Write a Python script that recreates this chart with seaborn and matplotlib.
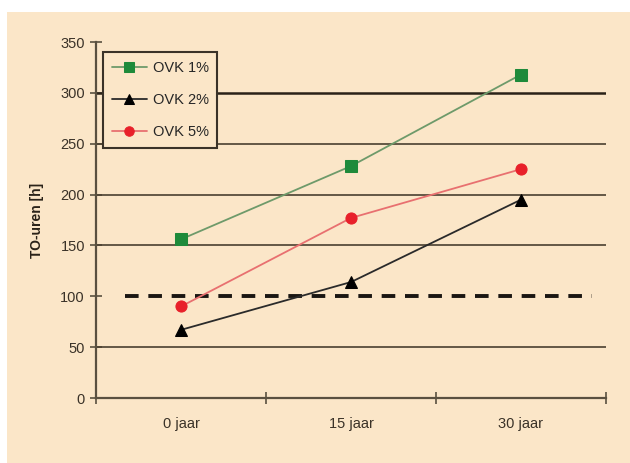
import matplotlib
matplotlib.use("Agg")
import matplotlib.pyplot as plt
import seaborn as sns
import pandas as pd
from matplotlib.patches import Rectangle

# data
periods = ["0 jaar", "15 jaar", "30 jaar"]
ovk_1 = [156, 228, 318]
ovk_2 = [67, 114, 195]
ovk_5 = [90, 177, 225]
norm_line = 100

series = {"OVK 1%": ovk_1, "OVK 2%": ovk_2, "OVK 5%": ovk_5}
rows = []
for name, vals in series.items():
    for p, v in zip(periods, vals):
        rows.append({"periode": p, "serie": name, "uren": v})
df = pd.DataFrame(rows)

bg = "#FBE6C8"
axis_col = "#5A5040"

sns.set_style("white")
plt.rcParams["font.family"] = ["Liberation Sans", "DejaVu Sans"]

fig = plt.figure(figsize=(6.3, 4.63), dpi=100)
fig.patch.set_facecolor("white")
fig.add_artist(Rectangle((7 / 630, 0), 1, (463 - 12) / 463, transform=fig.transFigure,
                         facecolor=bg, edgecolor="none", zorder=-10))
ax = fig.add_axes([96 / 630, 1 - 398 / 463, (606 - 96) / 630, (398 - 42) / 463])
ax.set_facecolor(bg)

# gridlines
for y in [50, 150, 200, 250, 300]:
    ax.axhline(y, color="#2A2218" if y == 300 else "#4A4030",
               lw=1.8 if y == 300 else 1.2, zorder=1)
ax.plot([-0.33, 2.42], [norm_line, norm_line], color="#1A1612", lw=2.8,
        dashes=(3.5, 2.5), zorder=2)

palette = {"OVK 1%": "#6E9A6A", "OVK 2%": "#2A2A2A", "OVK 5%": "#E87070"}
markers = {"OVK 1%": "s", "OVK 2%": "^", "OVK 5%": "o"}
face = {"OVK 1%": "#1E8A3A", "OVK 2%": "#000000", "OVK 5%": "#E8202A"}
sns.lineplot(data=df, x="periode", y="uren", hue="serie", style="serie",
             palette=palette, markers=markers, dashes=False, lw=1.3, ax=ax,
             markersize=8, zorder=3, sort=False)
data_lines = [l for l in ax.get_lines() if l.get_marker() in ("s", "^", "o")]
for line, name in zip(data_lines, series):
    line.set_markerfacecolor(face[name])
    line.set_markeredgecolor(face[name])

ax.set_xlim(-0.5, 2.5)
ax.set_ylim(0, 350)
ax.set_yticks(range(0, 351, 50))
ax.set_xticks([0, 1, 2])
ax.set_xticklabels(periods)
ax.set_xticks([-0.5, 0.5, 1.5, 2.5], minor=True)
ax.tick_params(axis="x", which="major", bottom=False, length=0, pad=14,
               labelsize=10.5, colors="#3A3228")
ax.tick_params(axis="x", which="minor", bottom=True, length=8, direction="inout",
               color=axis_col, width=1.2)
ax.tick_params(axis="y", left=True, length=8, direction="inout", color=axis_col, width=1.2,
               labelsize=10.5, labelcolor="#3A3228", pad=4)
ax.set_xlabel("")
ax.set_ylabel("TO-uren [h]", fontsize=10, fontweight="bold", labelpad=12, color="#2A2218")

for s in ["top", "right"]:
    ax.spines[s].set_visible(False)
for s in ["left", "bottom"]:
    ax.spines[s].set_color(axis_col)
    ax.spines[s].set_linewidth(1.6)

handles, labels = ax.get_legend_handles_labels()
for h, name in zip(handles, labels):
    h.set_markerfacecolor(face[name])
    h.set_markeredgecolor(face[name])
leg = ax.legend(handles, labels, loc="upper left", bbox_to_anchor=(0.014, 0.972),
                borderaxespad=0, frameon=True, fancybox=False, fontsize=10.5,
                handlelength=2.4, handletextpad=0.4, borderpad=0.6, labelspacing=1.25,
                markerscale=0.85)
leg.get_frame().set_facecolor(bg)
leg.get_frame().set_edgecolor("#3A3228")
leg.get_frame().set_linewidth(1.5)
leg.get_frame().set_alpha(1)
leg.set_zorder(10)

fig.savefig("out.png", dpi=100, facecolor=fig.get_facecolor())
